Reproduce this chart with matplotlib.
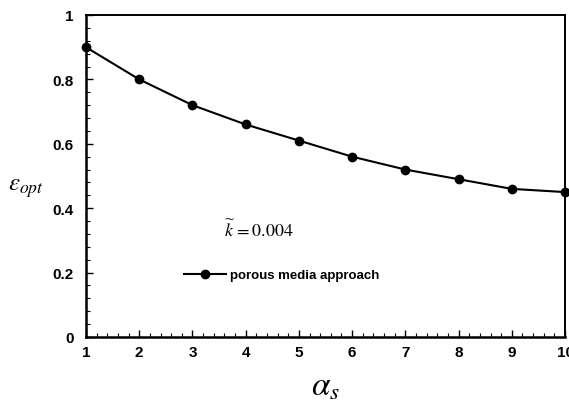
import matplotlib
matplotlib.use("Agg")
import matplotlib.pyplot as plt
from matplotlib.ticker import MultipleLocator

plt.rcParams['font.family'] = ['Liberation Sans', 'DejaVu Sans']
plt.rcParams['mathtext.fontset'] = 'stix'

alpha_s = [1, 2, 3, 4, 5, 6, 7, 8, 9, 10]
eps_opt = [0.90, 0.80, 0.72, 0.66, 0.61, 0.56, 0.52, 0.49, 0.46, 0.45]

fig = plt.figure(figsize=(5.69, 4.06), dpi=100)
ax = fig.add_axes([0.1511, 0.1675, 0.842, 0.7931])

ax.plot(alpha_s, eps_opt, color='black', lw=1.5, marker='o', ms=6,
        label='porous media approach', clip_on=False, zorder=3)

ax.set_xlim(1, 10)
ax.set_ylim(0, 1)
ax.xaxis.set_major_locator(MultipleLocator(1))
ax.xaxis.set_minor_locator(MultipleLocator(0.2))
ax.yaxis.set_minor_locator(MultipleLocator(0.04))
ax.set_yticks([0, 0.2, 0.4, 0.6, 0.8, 1.0])
ax.set_yticklabels(['0', '0.2', '0.4', '0.6', '0.8', '1'])

ax.tick_params(which='both', direction='in', top=False, right=False)
ax.tick_params(which='major', length=5, width=1)
ax.tick_params(which='minor', length=3, width=0.8)
ax.tick_params(axis='x', pad=6)
ax.tick_params(axis='y', pad=9)
for lbl in ax.get_xticklabels() + ax.get_yticklabels():
    lbl.set_fontweight('bold')
    lbl.set_fontsize(11)

ax.spines['left'].set_linewidth(1.8)
ax.spines['bottom'].set_linewidth(1.8)
ax.spines['top'].set_linewidth(1.4)
ax.spines['right'].set_linewidth(1.4)

ax.set_xlabel(r'$\alpha_s$', fontsize=24, labelpad=8)
ax.set_ylabel(r'$\varepsilon_{opt}$', fontsize=18, rotation=0)
ax.yaxis.set_label_coords(-0.125, 0.43)

ax.text(0.288, 0.335, r'$\widetilde{k}\,=0.004$', transform=ax.transAxes,
        fontsize=13, va='center', ha='left')

ax.legend(loc='center left', bbox_to_anchor=(0.2046, 0.1925), frameon=False,
          borderpad=0, borderaxespad=0, handlelength=3.2, handletextpad=0.3,
          prop={'weight': 'bold', 'size': 9.5})

fig.savefig('out.png', dpi=100)
